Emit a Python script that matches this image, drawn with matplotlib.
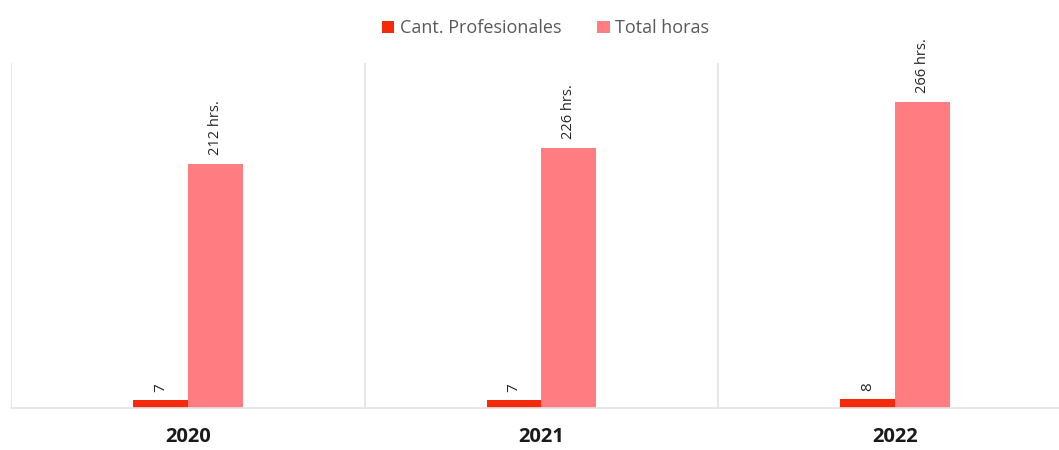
import numpy as np
import matplotlib
matplotlib.use("Agg")
import matplotlib.pyplot as plt

plt.rcParams['font.family'] = ['Open Sans', 'DejaVu Sans']

years = ['2020', '2021', '2022']
profesionales = [7, 7, 8]
horas = [212, 226, 266]

c_prof = '#F42A0C'
c_horas = '#FF7C80'
grid_c = '#E3E3E3'

fig = plt.figure(figsize=(10.59, 4.5), dpi=100)
# the plot area runs past the right edge of the picture, like the source
ax = fig.add_axes([11 / 1059, 42 / 450, 1061 / 1059, 345 / 450])

x = np.arange(len(years))
w = 0.155
b1 = ax.bar(x - w / 2, profesionales, w, color=c_prof, label='Cant. Profesionales')
b2 = ax.bar(x + w / 2, horas, w, color=c_horas, label='Total horas')

for rect, v in zip(b1, profesionales):
    ax.text(rect.get_x() + rect.get_width() / 2, v + 7, str(v),
            rotation=90, ha='center', va='bottom', fontsize=11, color='#262626')
for rect, v in zip(b2, horas):
    ax.text(rect.get_x() + rect.get_width() / 2, v + 8, '%d hrs.' % v,
            rotation=90, ha='center', va='bottom', fontsize=10.5, color='#262626')

ax.set_xlim(-0.5, 2.5)
ax.set_ylim(0, 300)
for xb in [-0.5, 0.5, 1.5, 2.5]:
    ax.axvline(xb, color=grid_c, lw=1.2, zorder=0)

for s in ['top', 'right', 'left']:
    ax.spines[s].set_visible(False)
ax.spines['bottom'].set_color(grid_c)
ax.spines['bottom'].set_linewidth(1.2)
ax.set_yticks([])
ax.set_xticks(x)
ax.set_xticklabels(years, fontsize=14.5, fontweight='bold', color='#1a1a1a')
ax.tick_params(axis='x', length=0, pad=14)

fig.legend(handles=[b1, b2], loc='center', bbox_to_anchor=(0.515, 0.937), ncol=2,
           frameon=False, fontsize=13, handlelength=0.7, handleheight=0.7,
           handletextpad=0.3, columnspacing=2.0, labelcolor='#595959')

fig.savefig('out.png', dpi=100)
